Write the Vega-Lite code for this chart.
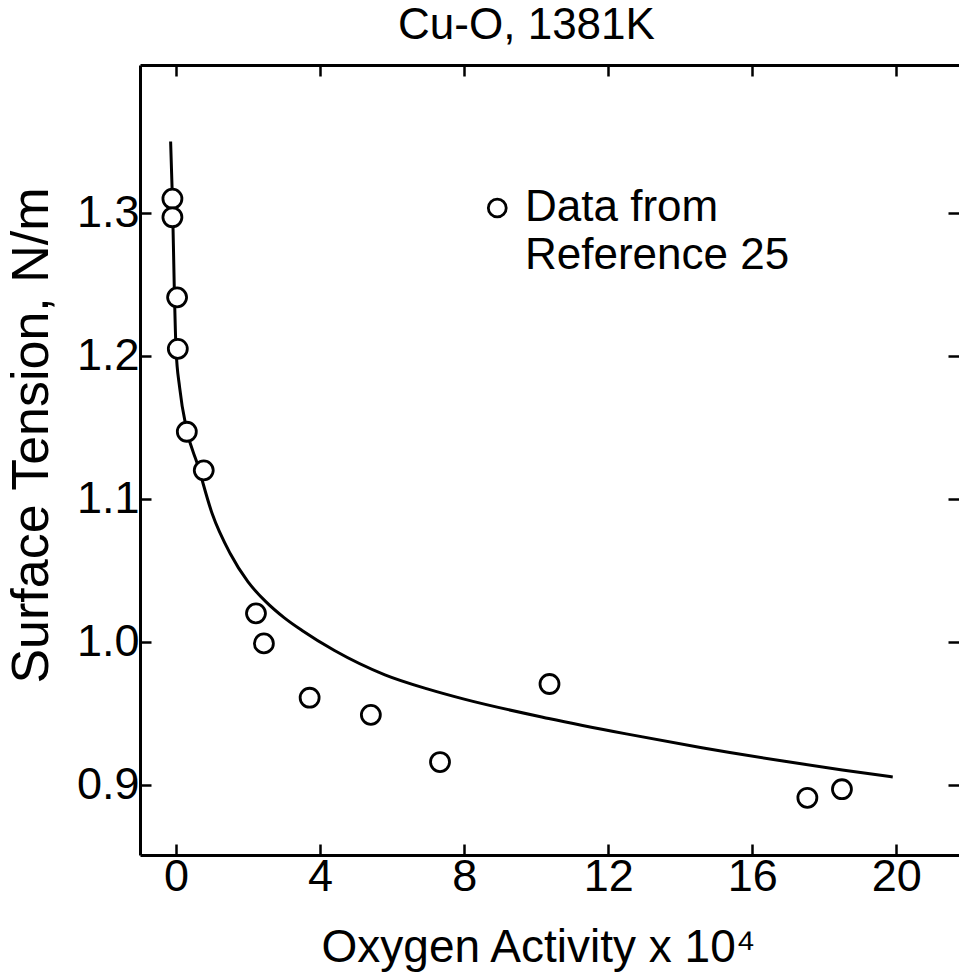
{
  "$schema": "https://vega.github.io/schema/vega-lite/v6.json",
  "width": 819,
  "height": 790,
  "autosize": {"type": "none"},
  "padding": {"left": 140, "top": 65, "right": 0, "bottom": 119},
  "background": "white",
  "config": {
    "view": {"stroke": null},
    "font": "Liberation Sans",
    "axis": {
      "domainColor": "black",
      "domainWidth": 3,
      "tickColor": "black",
      "tickWidth": 2.5,
      "tickSize": -11,
      "grid": false,
      "labelColor": "black",
      "labelFontSize": 45,
      "labelFont": "Liberation Sans",
      "titleColor": "black",
      "titleFontSize": 46,
      "titleFontWeight": "normal",
      "titleFont": "Liberation Sans"
    }
  },
  "title": {
    "text": "Cu-O, 1381K",
    "fontSize": 44,
    "fontWeight": "normal",
    "color": "black",
    "font": "Liberation Sans",
    "anchor": "middle",
    "dx": -23,
    "offset": 16
  },
  "datasets": {
    "fit": [
      {"a": -0.15, "sigma": 1.350},
      {"a": -0.1, "sigma": 1.31},
      {"a": -0.05, "sigma": 1.25},
      {"a": 0.0, "sigma": 1.205},
      {"a": 0.1, "sigma": 1.178},
      {"a": 0.3, "sigma": 1.148},
      {"a": 0.6, "sigma": 1.124},
      {"a": 1.0, "sigma": 1.09},
      {"a": 1.5, "sigma": 1.062},
      {"a": 2.0, "sigma": 1.042},
      {"a": 2.5, "sigma": 1.028},
      {"a": 3.0, "sigma": 1.017},
      {"a": 3.5, "sigma": 1.008},
      {"a": 4.4, "sigma": 0.994},
      {"a": 5.8, "sigma": 0.977},
      {"a": 7.0, "sigma": 0.967},
      {"a": 8.0, "sigma": 0.960},
      {"a": 10.35, "sigma": 0.9465},
      {"a": 12.5, "sigma": 0.9357},
      {"a": 14.6, "sigma": 0.926},
      {"a": 16.9, "sigma": 0.9165},
      {"a": 18.5, "sigma": 0.9105},
      {"a": 19.9, "sigma": 0.9056}
    ],
    "obs": [
      {"a": -0.1, "sigma": 1.310},
      {"a": -0.1, "sigma": 1.297},
      {"a": 0.03, "sigma": 1.241},
      {"a": 0.05, "sigma": 1.205},
      {"a": 0.3, "sigma": 1.147},
      {"a": 0.77, "sigma": 1.120},
      {"a": 2.22, "sigma": 1.020},
      {"a": 2.44, "sigma": 0.999},
      {"a": 3.71, "sigma": 0.961},
      {"a": 5.41, "sigma": 0.949},
      {"a": 7.33, "sigma": 0.916},
      {"a": 10.37, "sigma": 0.9706},
      {"a": 17.53, "sigma": 0.891},
      {"a": 18.49, "sigma": 0.897}
    ]
  },
  "resolve": {"axis": {"x": "independent", "y": "independent"}},
  "layer": [
    {
      "data": {"name": "fit"},
      "mark": {"type": "line", "color": "black", "strokeWidth": 3, "interpolate": "monotone"},
      "encoding": {
        "x": {
          "field": "a", "type": "quantitative",
          "scale": {"domain": [-1.0, 21.74], "nice": false, "zero": false},
          "axis": {"orient": "bottom", "values": [0, 4, 8, 12, 16, 20], "labelPadding": 10, "title": "Oxygen Activity x 10⁴", "titlePadding": 26, "titleX": 398, "titleAnchor": "start", "titleAlign": "center"}
        },
        "y": {
          "field": "sigma", "type": "quantitative",
          "scale": {"domain": [0.851, 1.4035], "nice": false, "zero": false},
          "axis": {"orient": "left", "values": [0.9, 1.0, 1.1, 1.2, 1.3], "format": ".1f", "labelPadding": 12, "title": "Surface Tension, N/m", "titleFontSize": 52, "titlePadding": 18, "titleY": 370, "titleAnchor": "start", "titleAlign": "center"}
        }
      }
    },
    {
      "data": {"name": "obs"},
      "mark": {"type": "point", "shape": "circle", "fill": "white", "stroke": "black", "strokeWidth": 2.8, "opacity": 1, "size": 360},
      "encoding": {
        "x": {"field": "a", "type": "quantitative", "axis": null},
        "y": {"field": "sigma", "type": "quantitative", "axis": null}
      }
    },
    {
      "data": {"values": [{}]},
      "mark": {"type": "point", "shape": "circle", "fill": "white", "stroke": "black", "strokeWidth": 2.8, "opacity": 1, "size": 320},
      "encoding": {
        "x": {"datum": 8.92, "type": "quantitative", "axis": null},
        "y": {"datum": 1.3035, "type": "quantitative", "axis": null}
      }
    },
    {
      "data": {"values": [{}]},
      "mark": {"type": "text", "align": "left", "baseline": "alphabetic", "fontSize": 44, "font": "Liberation Sans", "color": "black", "lineHeight": 48.5},
      "encoding": {
        "x": {"datum": 9.69, "type": "quantitative", "axis": null},
        "y": {"datum": 1.2944, "type": "quantitative", "axis": null},
        "text": {"value": ["Data from", "Reference 25"]}
      }
    },
    {
      "data": {"name": "fit"},
      "mark": {"type": "line", "strokeOpacity": 0},
      "encoding": {
        "x": {"field": "a", "type": "quantitative", "axis": {"orient": "top", "values": [0, 4, 8, 12, 16, 20], "labels": false, "title": null}},
        "y": {"field": "sigma", "type": "quantitative", "axis": {"orient": "right", "values": [0.9, 1.0, 1.1, 1.2, 1.3], "labels": false, "title": null, "domain": false}}
      }
    }
  ]
}
